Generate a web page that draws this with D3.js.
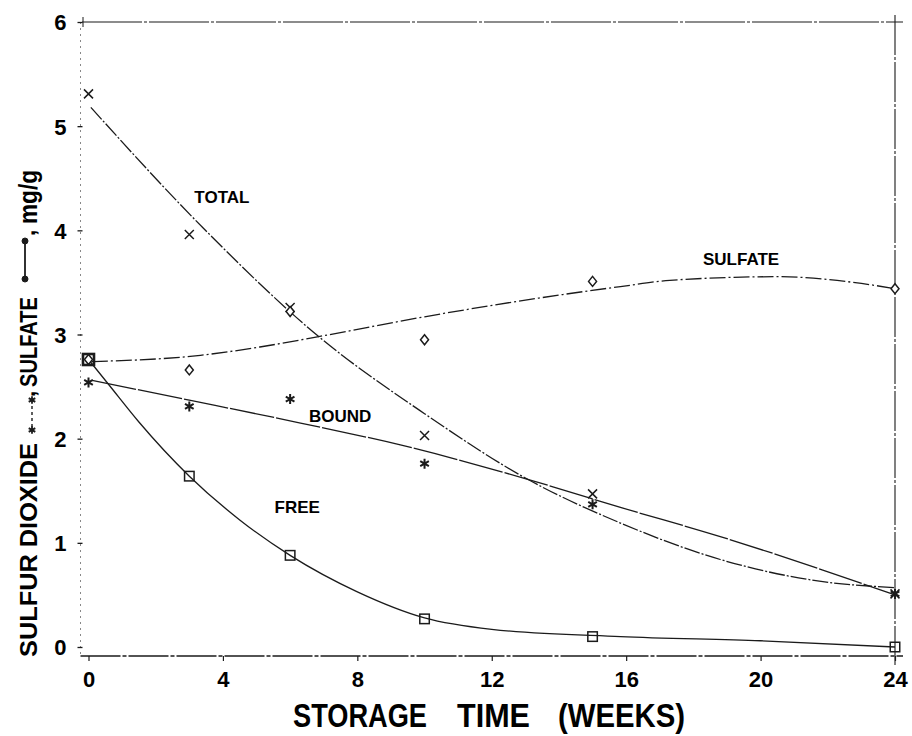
<!DOCTYPE html>
<html>
<head>
<meta charset="utf-8">
<script src="https://cdn.jsdelivr.net/npm/d3@7"></script>
<style>
  html, body { margin: 0; padding: 0; background: #fff; }
  svg { display: block; font-family: "Liberation Sans", Arial, sans-serif; font-weight: bold; }
</style>
</head>
<body>
<svg id="chart" width="912" height="736"></svg>
<script>
// Measured points (mg/g) at each storage time (weeks)
const weeks    = [0, 3, 6, 10, 15, 24];
const totalSO2 = [5.31, 3.96, 3.26, 2.03, 1.47, 0.51];
const boundSO2 = [2.54, 2.31, 2.38, 1.76, 1.37, 0.51];
const freeSO2  = [2.76, 1.64, 0.88, 0.27, 0.10, 0.00];
const sulfate  = [2.76, 2.66, 3.22, 2.95, 3.51, 3.44];

// Smoothed fitted curves: [week, mg/g]
const totalFit   = [[0.07, 5.18], [3.42, 4.02], [6.85, 2.98], [10, 2.24], [13.07, 1.61],
                    [15.83, 1.19], [18.8, 0.84], [21.8, 0.63], [24, 0.57]];
const boundFit   = [[0.1, 2.56], [3, 2.37], [6.31, 2.15], [9.28, 1.94], [13.07, 1.61],
                    [15.83, 1.34], [18.8, 1.06], [24, 0.50]];
const freeFit    = [[0, 2.76], [0.6, 2.52], [1.5, 2.16], [3, 1.64], [4.5, 1.22], [6, 0.88],
                    [8, 0.53], [10, 0.28], [12, 0.17], [15.83, 0.10], [20, 0.06], [24, 0.0]];
const sulfateFit = [[0.1, 2.74], [3.33, 2.80], [5.1, 2.88], [6.85, 2.98], [10, 3.17], [13, 3.33],
                    [15.83, 3.46], [17.3, 3.52], [20.5, 3.555], [23, 3.49], [24, 3.44]];

// Axis ticks
const xTicks = [0, 4, 8, 12, 16, 20, 24];
const yTicks = [0, 1, 2, 3, 4, 5, 6];

// Curve labels: [text, week, mg/g]
const curveLabels = [["TOTAL", 3.97, 4.26], ["SULFATE", 19.42, 3.67],
                     ["BOUND", 7.49, 2.16], ["FREE", 6.21, 1.29]];

const svg = d3.select("#chart");
const ink = "#1b1b1b";
const x = d3.scaleLinear().domain([0, 24]).range([88.5, 895]);
const y = d3.scaleLinear().domain([0, 6]).range([647, 22]);
const axisY = 656;   // baseline of the time axis (sits a little below zero)
const axisX = 80.5;  // left axis line
const fontStack = '"Liberation Sans", Arial, sans-serif';

// ---- frame ----
svg.append("line")            // top border
  .attr("x1", 82).attr("x2", 903).attr("y1", y(6)).attr("y2", y(6))
  .attr("stroke", ink).attr("stroke-width", 1.1).attr("stroke-dasharray", "60,2,3,2");
svg.append("line")            // short cross at the 6 mark
  .attr("x1", 83).attr("x2", 83).attr("y1", y(6) - 5).attr("y2", y(6) + 5)
  .attr("stroke", ink).attr("stroke-width", 1);
svg.append("line")            // right border
  .attr("x1", x(24)).attr("x2", x(24)).attr("y1", 15).attr("y2", 665)
  .attr("stroke", ink).attr("stroke-width", 1.1).attr("stroke-dasharray", "40,2,3,2");
svg.append("line")            // left axis (faint)
  .attr("x1", axisX).attr("x2", axisX).attr("y1", y(6)).attr("y2", axisY)
  .attr("stroke", "#888").attr("stroke-width", 1).attr("stroke-dasharray", "2,4");
svg.append("line")            // bottom axis
  .attr("x1", axisX).attr("x2", 903).attr("y1", axisY).attr("y2", axisY)
  .attr("stroke", ink).attr("stroke-width", 1.4).attr("stroke-dasharray", "40,2,4,2");

// ---- x axis ----
const gx = svg.append("g").attr("transform", `translate(0,${axisY})`)
  .call(d3.axisBottom(x).tickValues(xTicks).tickFormat(d3.format("d")).tickSize(5).tickSizeOuter(0));
gx.select(".domain").remove();
gx.selectAll(".tick line").attr("stroke", ink).attr("stroke-width", 1.2);
gx.selectAll(".tick text").attr("y", 31).attr("dy", 0)
  .attr("fill", "#000").style("font-size", "22px").style("font-weight", "bold")
  .style("font-family", fontStack);

// ---- y axis ----
const gy = svg.append("g").attr("transform", `translate(${axisX},0)`)
  .call(d3.axisLeft(y).tickValues(yTicks).tickFormat(d3.format("d")).tickSize(3).tickSizeOuter(0));
gy.select(".domain").remove();
gy.selectAll(".tick line").attr("x1", 2).attr("stroke", ink).attr("stroke-width", 1.3);
gy.selectAll(".tick text").attr("x", -14).attr("dy", "0.36em")
  .attr("fill", "#000").style("font-size", "22px").style("font-weight", "bold")
  .style("font-family", fontStack);

// ---- fitted curves ----
const line = d3.line().x(d => x(d[0])).y(d => y(d[1])).curve(d3.curveMonotoneX);
const curves = [
  [totalFit, "16,2,2,2"],
  [sulfateFit, "16,3,2,3"],
  [boundFit, "45,2"],
  [freeFit, null]
];
curves.forEach(([pts, dash]) => {
  svg.append("path").datum(pts).attr("d", line)
    .attr("fill", "none").attr("stroke", ink).attr("stroke-width", 1.3)
    .attr("stroke-dasharray", dash);
});

// ---- markers ----
const mk = svg.append("g").attr("stroke", ink).attr("fill", "none");

// total: crosses
weeks.forEach((w, i) => {
  const cx = x(w), cy = y(totalSO2[i]), r = 4.5;
  mk.append("path").attr("d", `M${cx - r},${cy - r}L${cx + r},${cy + r}M${cx - r},${cy + r}L${cx + r},${cy - r}`)
    .attr("stroke-width", 1.5);
});
// sulfate: diamonds
weeks.forEach((w, i) => {
  const cx = x(w), cy = y(sulfate[i]);
  mk.append("path").attr("d", `M${cx},${cy - 5}L${cx + 4},${cy}L${cx},${cy + 5}L${cx - 4},${cy}Z`)
    .attr("stroke-width", 1.5).attr("fill", "#fff");
});
// bound: asterisks
weeks.forEach((w, i) => {
  const cx = x(w), cy = y(boundSO2[i]), r = 5;
  let d = "";
  [90, 30, -30].forEach(a => {
    const dx = r * Math.cos(a * Math.PI / 180), dy = r * Math.sin(a * Math.PI / 180);
    d += `M${cx - dx},${cy - dy}L${cx + dx},${cy + dy}`;
  });
  mk.append("path").attr("d", d).attr("stroke-width", 2);
});
// free: squares
weeks.forEach((w, i) => {
  const cx = x(w), cy = y(freeSO2[i]), s = i === 0 ? 11 : 9.5;
  mk.append("rect").attr("x", cx - s / 2).attr("y", cy - s / 2).attr("width", s).attr("height", s)
    .attr("stroke-width", i === 0 ? 2.6 : 1.5);
});

// ---- curve labels ----
svg.append("g").selectAll("text").data(curveLabels).join("text")
  .attr("x", d => x(d[1])).attr("y", d => y(d[2]))
  .attr("text-anchor", "middle").attr("fill", "#000")
  .style("font-size", "17px")
  .text(d => d[0]);

// ---- x title ----
const xTitle = svg.append("g").attr("fill", "#000").style("font-size", "34px");
[["STORAGE", 293, 134], ["TIME", 457, 73], ["(WEEKS)", 558, 127]].forEach(([t, px, len]) => {
  xTitle.append("text").attr("x", px).attr("y", 727)
    .attr("textLength", len).attr("lengthAdjust", "spacingAndGlyphs").text(t);
});

// ---- y title with inline series keys ----
const yt = svg.append("g").attr("transform", "translate(37,0) rotate(-90)")
  .attr("fill", "#000").style("font-size", "23px");
yt.append("text").attr("x", -657).attr("y", 0)
  .attr("textLength", 214).attr("lengthAdjust", "spacingAndGlyphs").text("SULFUR DIOXIDE");
// dashed key with asterisks
const key1 = yt.append("g").attr("stroke", ink).attr("fill", "none");
key1.append("line").attr("x1", -427).attr("x2", -403).attr("y1", -5).attr("y2", -5)
  .attr("stroke-width", 1.4).attr("stroke-dasharray", "3,3");
[-430, -400].forEach(u => {
  let d = "";
  [0, 60, 120].forEach(a => {
    const dx = 3.8 * Math.cos(a * Math.PI / 180), dy = 3.8 * Math.sin(a * Math.PI / 180);
    d += `M${u - dx},${-5 - dy}L${u + dx},${-5 + dy}`;
  });
  key1.append("path").attr("d", d).attr("stroke-width", 1.8);
});
yt.append("text").attr("x", -397).attr("y", -2).text(",");
yt.append("text").attr("x", -387).attr("y", 0)
  .attr("textLength", 90).attr("lengthAdjust", "spacingAndGlyphs").text("SULFATE");
// solid key with dots
const key2 = yt.append("g").attr("stroke", ink).attr("fill", ink);
key2.append("line").attr("x1", -279).attr("x2", -241).attr("y1", -12).attr("y2", -12).attr("stroke-width", 1.8);
[-279, -241].forEach(u => key2.append("circle").attr("cx", u).attr("cy", -12).attr("r", 3));
yt.append("text").attr("x", -236).attr("y", -2).text(",");
yt.append("text").attr("x", -224).attr("y", 0).style("font-size", "25px")
  .attr("textLength", 54).attr("lengthAdjust", "spacingAndGlyphs").text("mg/g");
</script>
</body>
</html>
